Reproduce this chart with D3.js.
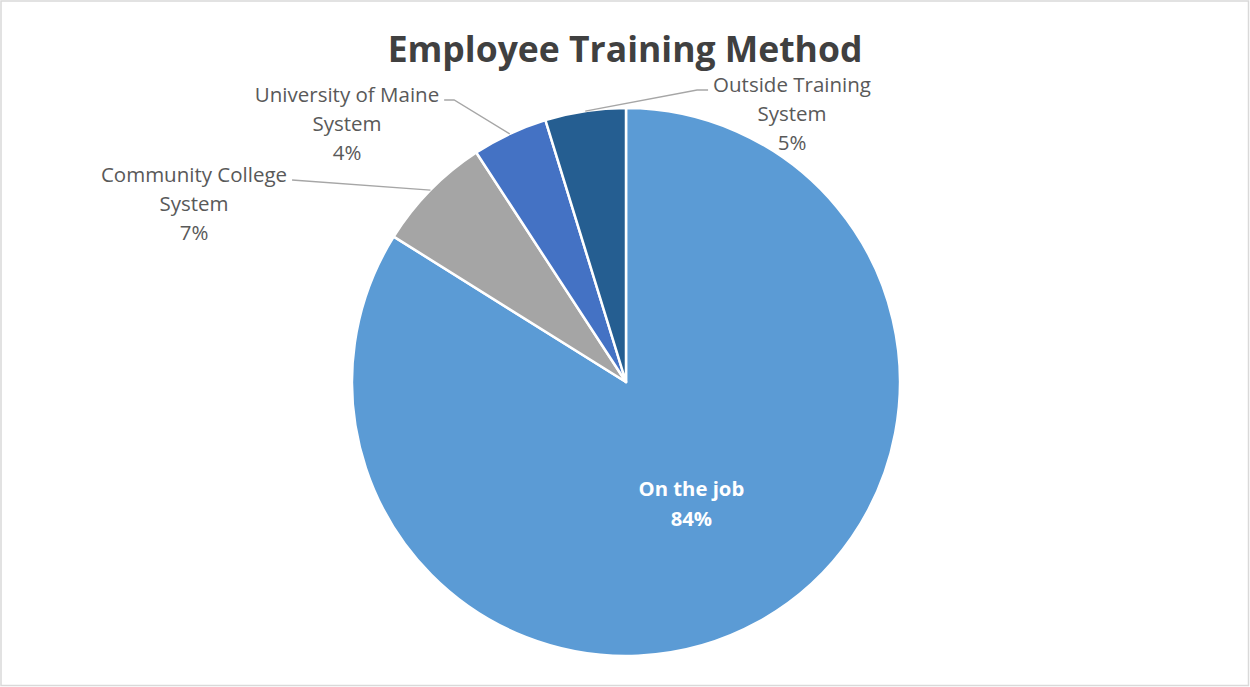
<!DOCTYPE html>
<html><head><meta charset="utf-8">
<script src="https://cdn.jsdelivr.net/npm/d3@7"></script>
<style>
html,body{margin:0;padding:0;background:#fff;}
svg{display:block;}
</style></head>
<body>
<svg id="chart" width="1250" height="687"></svg>
<script>
const title = "Employee Training Method";
const categories = ["On the job", "Community College System", "University of Maine System", "Outside Training System"];
const values = [83.9, 6.9, 4.45, 4.75];
const colors = ["#5B9BD5", "#A5A5A5", "#4472C4", "#255E91"];
const labelLines = [["On the job"], ["Community College", "System"], ["University of Maine", "System"], ["Outside Training", "System"]];

const W = 1250, H = 687;
const cx = 626, cy = 382, R = 274;
const svg = d3.select("#chart");

svg.append("rect").attr("x",1).attr("y",1).attr("width",W-2.5).attr("height",H-2.5)
  .attr("fill","#fff").attr("stroke","#d9d9d9").attr("stroke-width",1.5);

svg.append("text").attr("x",625).attr("y",62).attr("text-anchor","middle")
  .attr("font-family","'Open Sans', sans-serif").attr("font-weight","bold")
  .attr("font-size",35.5).attr("fill","#404040").text(title);

const data = categories.map((c,i)=>({name:c, value:values[i], color:colors[i], lines:labelLines[i]}));
const total = d3.sum(values);
const pie = d3.pie().sort(null).value(d=>d.value).startAngle(0).endAngle(2*Math.PI);
const arcs = pie(data);
const arc = d3.arc().innerRadius(0).outerRadius(R);

const g = svg.append("g").attr("transform",`translate(${cx},${cy})`);
g.selectAll("path").data(arcs).join("path")
  .attr("d",arc).attr("fill",d=>d.data.color)
  .attr("stroke","#fff").attr("stroke-width",2.5).attr("stroke-linejoin","round");

const pct = v => Math.round(v/total*100) + "%";

// inside label for first slice
const inner = arcs[0];
const c0 = arc.centroid(inner);
const tIn = g.append("text").attr("text-anchor","middle").attr("fill","#fff")
  .attr("font-family","'Open Sans', sans-serif").attr("font-weight","bold").attr("font-size",20.3);
tIn.append("tspan").attr("x",c0[0]-1).attr("y",c0[1]-6).text(inner.data.lines[0]);
tIn.append("tspan").attr("x",c0[0]-1).attr("y",c0[1]+24).text(pct(inner.data.value));

// outside label layout (anchor of label block relative to center, and elbow)
const layout = [
  null,
  {lx:-432, ly:-200, elbowDx:0, side:"left"},
  {lx:-279, ly:-280, elbowDx:10, side:"left"},
  {lx:166, ly:-290, elbowDx:-11, side:"right"}
];
const lineH = 29;
arcs.forEach((a,i)=>{
  if(i===0) return;
  const L = layout[i];
  const mid = (a.startAngle+a.endAngle)/2;
  const px = Math.sin(mid)*R, py = -Math.cos(mid)*R;
  const t = g.append("text").attr("text-anchor","middle").attr("fill","#595959")
    .attr("font-family","'Open Sans', sans-serif").attr("font-size",20.5);
  const lines = a.data.lines.concat([pct(a.data.value)]);
  lines.forEach((s,k)=>{
    t.append("tspan").attr("x",L.lx).attr("y",L.ly+k*lineH).text(s);
  });
  const first = t.select("tspan").node();
  const w = first.getComputedTextLength();
  const ey = L.ly - 2;
  const ex = L.side==="left" ? L.lx + w/2 + 5 : L.lx - w/2 - 5;
  const pts = [[ex,ey],[ex+L.elbowDx,ey],[px,py]];
  g.insert("path","text").attr("d",d3.line()(pts)).attr("fill","none")
    .attr("stroke","#a6a6a6").attr("stroke-width",1.3);
});
</script>
</body></html>
